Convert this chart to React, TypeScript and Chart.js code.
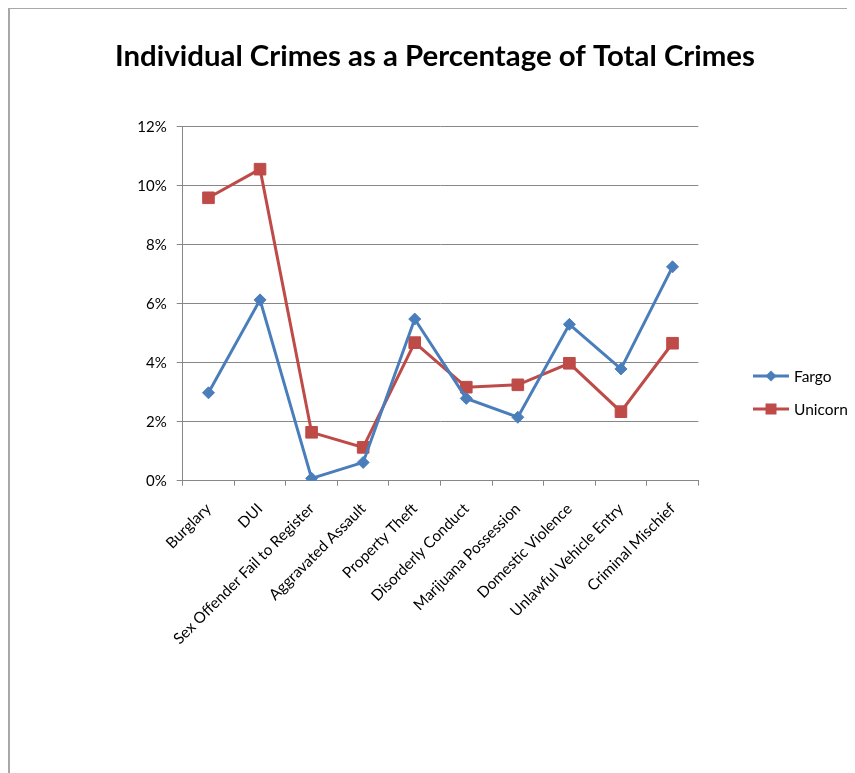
import React, { useEffect, useRef } from "react";
import { Chart, registerables } from "chart.js";

Chart.register(...registerables);

const TITLE = "Individual Crimes as a Percentage of Total Crimes";
const categories = [
  "Burglary",
  "DUI",
  "Sex Offender Fail to Register",
  "Aggravated Assault",
  "Property Theft",
  "Disorderly Conduct",
  "Marijuana Possession",
  "Domestic Violence",
  "Unlawful Vehicle Entry",
  "Criminal Mischief",
];
const fargo = [2.98, 6.13, 0.08, 0.62, 5.48, 2.79, 2.15, 5.3, 3.79, 7.25];
const unicorn = [9.59, 10.56, 1.64, 1.13, 4.68, 3.17, 3.25, 3.98, 2.34, 4.66];
const yTicks = [0, 2, 4, 6, 8, 10, 12];

const BLUE = "#4A7EBB";
const RED = "#BE4B48";
const GRID = "#878787";
const FONT = "Lato, 'Open Sans', sans-serif";

const W = 847;
const H = 766;
const AREA = { left: 174.7, top: 119.7, right: 690.3, bottom: 473.7 };
const X_AXIS_H = 200;
const Y_AXIS_W = 174.7;

const overlayPlugin = {
  id: "overlay",
  afterDraw(chart: any) {
    const ctx = chart.ctx;
    ctx.save();
    // title
    ctx.fillStyle = "#000";
    ctx.font = `bold 29.4px ${FONT}`;
    ctx.textAlign = "center";
    ctx.textBaseline = "middle";
    ctx.fillText(TITLE, 427, 50);
    // legend
    const items = chart.data.datasets;
    const lx0 = 745;
    const lx1 = 781;
    const ys = [369, 402];
    items.forEach((ds: any, i: number) => {
      const y = ys[i];
      ctx.strokeStyle = ds.borderColor;
      ctx.lineWidth = 3;
      ctx.beginPath();
      ctx.moveTo(lx0, y);
      ctx.lineTo(lx1, y);
      ctx.stroke();
      const cx = (lx0 + lx1) / 2;
      ctx.fillStyle = ds.backgroundColor;
      ctx.beginPath();
      if (ds.pointStyle === "rectRot") {
        const r = 5.5;
        ctx.moveTo(cx - r, y);
        ctx.lineTo(cx, y - r);
        ctx.lineTo(cx + r, y);
        ctx.lineTo(cx, y + r);
        ctx.closePath();
      } else {
        const s = 5.5;
        ctx.rect(cx - s, y - s, 2 * s, 2 * s);
      }
      ctx.fill();
      ctx.fillStyle = "#000";
      ctx.font = `15.5px ${FONT}`;
      ctx.textAlign = "left";
      ctx.textBaseline = "middle";
      ctx.fillText(ds.label, lx1 + 5, y + 1);
    });
    ctx.restore();
  },
};

export default function App() {
  const ref = useRef<HTMLCanvasElement>(null);
  useEffect(() => {
    if (!ref.current) return;
    const chart = new Chart(ref.current, {
      type: "line",
      data: {
        labels: categories,
        datasets: [
          {
            label: "Fargo",
            data: fargo,
            borderColor: BLUE,
            backgroundColor: BLUE,
            borderWidth: 3,
            pointStyle: "rectRot",
            pointRadius: 6,
            pointBorderWidth: 1,
            pointBackgroundColor: BLUE,
            pointBorderColor: BLUE,
            tension: 0,
          },
          {
            label: "Unicorn",
            data: unicorn,
            borderColor: RED,
            backgroundColor: RED,
            borderWidth: 3,
            pointStyle: "rect",
            pointRadius: 8.2,
            pointBorderWidth: 1,
            pointBackgroundColor: RED,
            pointBorderColor: RED,
            tension: 0,
          },
        ],
      },
      options: {
        responsive: false,
        animation: false,
        layout: {
          padding: {
            left: 0,
            top: AREA.top,
            right: W - AREA.right,
            bottom: H - AREA.bottom - X_AXIS_H,
          },
        },
        plugins: {
          legend: { display: false },
          title: { display: false },
          tooltip: { enabled: false },
        },
        scales: {
          x: {
            offset: true,
            grid: {
              offset: true,
              drawOnChartArea: false,
              drawTicks: true,
              tickLength: 5,
              color: GRID,
            },
            border: { color: GRID, width: 1 },
            ticks: {
              autoSkip: false,
              minRotation: 45,
              maxRotation: 45,
              padding: 14,
              color: "#000",
              font: { family: FONT, size: 15.3 },
            },
            afterFit(scale: any) {
              scale.height = X_AXIS_H;
            },
          },
          y: {
            min: 0,
            max: 12,
            afterBuildTicks(scale: any) {
              scale.ticks = yTicks.map((v) => ({ value: v }));
            },
            grid: {
              color: GRID,
              lineWidth: 1,
              tickLength: 6,
            },
            border: { color: GRID, width: 1 },
            ticks: {
              padding: 10,
              color: "#000",
              font: { family: FONT, size: 15 },
              callback: (v: any) => `${v}%`,
            },
            afterFit(scale: any) {
              scale.width = Y_AXIS_W;
            },
          },
        },
      },
      plugins: [overlayPlugin],
    });
    return () => chart.destroy();
  }, []);

  return (
    <div
      style={{
        position: "relative",
        marginTop: -1,
        width: W,
        height: H,
        boxSizing: "border-box",
        borderTop: "2px solid #a8a8a8",
        borderLeft: "2px solid #a8a8a8",
      }}
    >
      <canvas
        ref={ref}
        width={W}
        height={H}
        style={{ position: "absolute", left: -2, top: -2, width: W, height: H }}
      />
    </div>
  );
}
